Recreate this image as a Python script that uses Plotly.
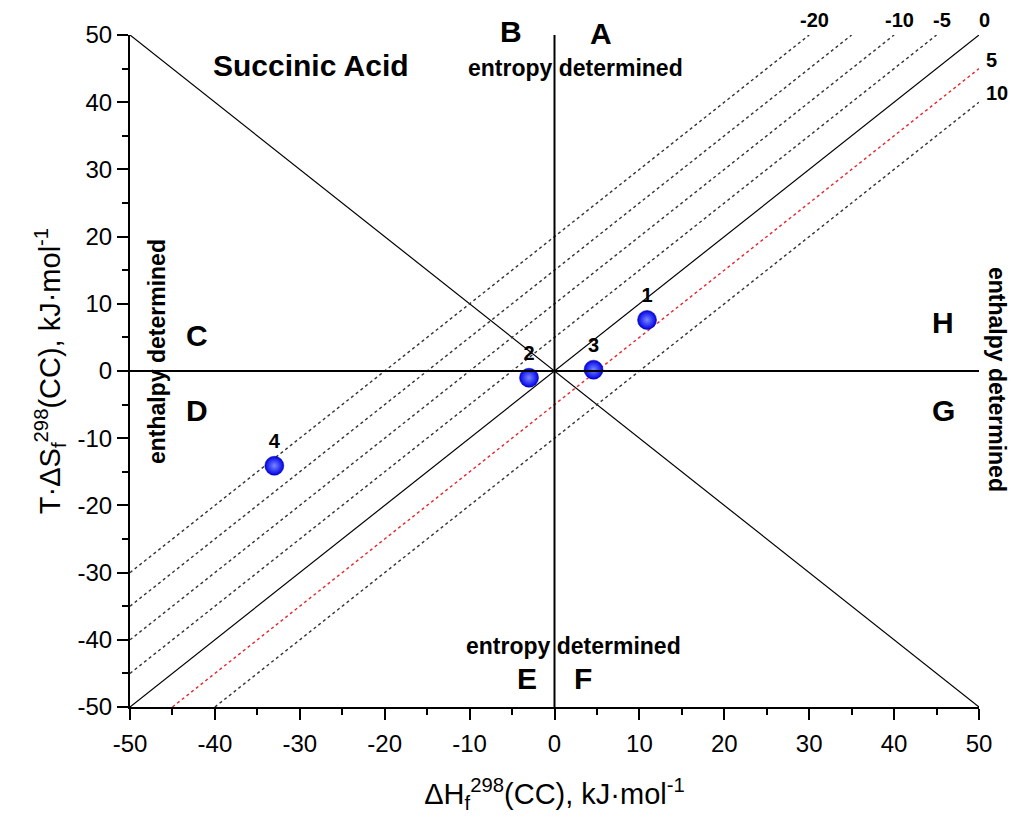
import plotly.graph_objects as go

# Data
point_labels = ["1", "2", "3", "4"]
dH = [10.9, -3.0, 4.6, -33.0]
TdS = [7.6, -1.0, 0.2, -14.1]

line_offsets = [-20, -15, -10, -5, 0, 5, 10]
line_labels = {-20: "-20", -10: "-10", -5: "-5", 0: "0", 5: "5", 10: "10"}

tick_vals = [-50, -40, -30, -20, -10, 0, 10, 20, 30, 40, 50]
tick_text = ["-50", "-40", "-30", "-20", "-10", "0", "10", "20", "30", "40", "50"]

xmin, xmax, ymin, ymax = -50, 50, -50, 50
FONT = "Liberation Sans, Arial, sans-serif"

fig = go.Figure()

# anti-diagonal
fig.add_trace(go.Scatter(x=[xmin, xmax], y=[ymax, ymin], mode="lines",
                         line=dict(color="black", width=1.2), hoverinfo="skip", showlegend=False))

# iso-lines y = x - c
for c in line_offsets:
    x0 = max(xmin, ymin + c)
    x1 = min(xmax, ymax + c)
    xs = [x0, x1]
    ys = [x0 - c, x1 - c]
    if c == 0:
        ln = dict(color="black", width=1.2)
    elif c == 5:
        ln = dict(color="#e8242b", width=1.4, dash="dot")
    else:
        ln = dict(color="#333333", width=1.4, dash="dot")
    fig.add_trace(go.Scatter(x=xs, y=ys, mode="lines", line=ln,
                             hoverinfo="skip", showlegend=False))
    if c in line_labels:
        if c <= 0:
            fig.add_annotation(x=x1, y=ys[1], text="<b>%s</b>" % line_labels[c],
                               showarrow=False, xanchor="center", yanchor="bottom",
                               yshift=2, xshift=5, font=dict(size=20, color="black", family=FONT))
        else:
            fig.add_annotation(x=x1, y=ys[1], text="<b>%s</b>" % line_labels[c],
                               showarrow=False, xanchor="left", yanchor="bottom",
                               xshift=5, yshift=-4, font=dict(size=20, color="black", family=FONT))

# zero axes
fig.add_shape(type="line", x0=0, x1=0, y0=ymin, y1=ymax, line=dict(color="black", width=2))
fig.add_shape(type="line", x0=xmin, x1=xmax, y0=0, y1=0, line=dict(color="black", width=2))

# points
fig.add_trace(go.Scatter(x=dH, y=TdS, mode="markers+text", text=["<b>%s</b>" % t for t in point_labels],
                         textposition="top center", textfont=dict(size=20, color="black", family=FONT),
                         marker=dict(size=19, color="#0000e8",
                                     gradient=dict(type="radial", color="#7888ff"),
                                     line=dict(width=0.5, color="#000090")),
                         showlegend=False))

def ann(x, y, text, size=22, angle=0, xanchor="center", yanchor="middle"):
    fig.add_annotation(x=x, y=y, xref="paper", yref="paper", text=text, showarrow=False,
                       textangle=angle, xanchor=xanchor, yanchor=yanchor,
                       font=dict(size=size, color="black", family=FONT))

L, R, T, B = 130, 979, 35, 707
W, H = R - L, B - T
def px(xp, yp):
    return (xp - L) / W, (B - yp) / H

for (xp, yp, t, s) in [(311, 66, "<b>Succinic Acid</b>", 30),
                       (511, 31, "<b>B</b>", 30), (601, 33, "<b>A</b>", 30),
                       (575, 68, "<b>entropy determined</b>", 23),
                       (197, 335, "<b>C</b>", 30), (197, 410, "<b>D</b>", 30),
                       (943, 322, "<b>H</b>", 30), (943, 410, "<b>G</b>", 30),
                       (573, 646, "<b>entropy determined</b>", 23),
                       (527, 678, "<b>E</b>", 30), (583, 678, "<b>F</b>", 30)]:
    x, y = px(xp, yp)
    ann(x, y, t, size=s)

x, y = px(157, 352)
ann(x, y, "<b>enthalpy determined</b>", size=23, angle=-90)
x, y = px(997, 380)
ann(x, y, "<b>enthalpy determined</b>", size=23, angle=90)

axis_common = dict(showgrid=False, zeroline=False, showline=True, linecolor="black", linewidth=2,
                   ticks="outside", ticklen=11, tickwidth=2, tickcolor="black",
                   tickfont=dict(size=24, color="black", family=FONT),
                   tickmode="array", tickvals=tick_vals, ticktext=tick_text,
                   minor=dict(ticks="outside", ticklen=6, tickwidth=2, dtick=5, tick0=-50, tickcolor="black"))

fig.update_xaxes(range=[xmin, xmax], ticklabelstandoff=3,
                 title=dict(text="ΔH<sub>f</sub><sup>298</sup>(CC), kJ·mol<sup>-1</sup>",
                            font=dict(size=29, color="black", family=FONT), standoff=28),
                 **axis_common)
fig.update_yaxes(range=[ymin, ymax],
                 title=dict(text="T·ΔS<sub>f</sub><sup>298</sup>(CC), kJ·mol<sup>-1</sup>",
                            font=dict(size=29, color="black", family=FONT), standoff=8),
                 **axis_common)

fig.update_layout(width=1011, height=822, plot_bgcolor="white", paper_bgcolor="white",
                  margin=dict(l=L, r=1011 - R, t=T, b=822 - B), showlegend=False)

fig.write_html("out.html")
